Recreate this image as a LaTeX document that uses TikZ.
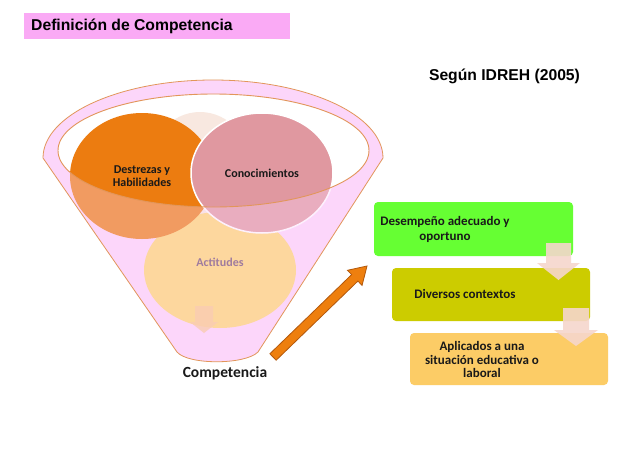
\documentclass[tikz,border=0pt]{standalone}
\usepackage{fontspec}
\setmainfont{Carlito}
\newfontfamily\arialf{Liberation Sans}
\usetikzlibrary{shapes.geometric,calc}
\definecolor{titlepink}{RGB}{250,170,245}
\definecolor{funpink}{RGB}{252,214,250}
\definecolor{funline}{RGB}{226,150,90}
\definecolor{cdes}{RGB}{236,124,16}
\definecolor{ccon}{RGB}{224,152,160}
\definecolor{cact}{RGB}{254,216,110}
\definecolor{cpale}{RGB}{248,232,224}
\definecolor{bgreen}{RGB}{102,255,51}
\definecolor{bolive}{RGB}{204,204,0}
\definecolor{bgold}{RGB}{252,204,102}
\definecolor{darrow}{RGB}{246,214,204}
\definecolor{oarrow}{RGB}{238,127,14}
\definecolor{oarrowline}{RGB}{178,88,12}
\definecolor{acttext}{RGB}{110,75,110}
\definecolor{txt}{RGB}{25,25,25}
\tikzset{
  circ/.style={ellipse, inner sep=0pt, align=center, font=\bfseries\fontsize{12}{13.5}\selectfont, text=txt},
  boxnode/.style={rectangle, rounded corners=4pt, inner sep=0pt},
  boxtext/.style={align=center, font=\bfseries\fontsize{13}{15}\selectfont, text=txt},
  downarrow/.style={fill=darrow, opacity=0.9},
  headfont/.style={font=\arialf\bfseries\fontsize{15.7}{18}\selectfont},
}
\def\funnelpath{(43,158) arc[start angle=180, end angle=360, x radius=170, y radius=78] -- (258,352) .. controls (245,365) and (188,365) .. (177,352) -- cycle}
\def\innerell{(213.5,150.5) ellipse[x radius=155.5, y radius=56.5]}
\begin{document}
\begin{tikzpicture}[x=1pt,y=-1pt]
\useasboundingbox (0,0) rectangle (630,469);
\fill[white] (0,0) rectangle (630,469);
% title
\node[fill=titlepink, minimum width=266pt, minimum height=26pt, inner sep=0pt, anchor=north west] (titlebox) at (24,13) {};
\node[anchor=west, headfont, inner sep=0pt] (title) at (31,26) {Definición de Competencia};
\node[headfont] (segun) at (504.5,76) {Según IDREH (2005)};
% funnel background
\fill[funpink, even odd rule] \funnelpath \innerell;
% circles
\node[ellipse, fill=cpale, minimum width=104pt, minimum height=116pt, inner sep=0pt] (pale) at (200,170) {};
\node[circ, fill=cact, minimum width=152pt, minimum height=116pt] (act) at (220,270) {};
\node[circ, fill=cdes, minimum width=144pt, minimum height=126pt] (des) at (142,176) {Destrezas y\\Habilidades};
\node[circ, fill=ccon, draw=white, line width=1.5pt, minimum width=142pt, minimum height=120pt] (con) at (262,173) {Conocimientos};
\node[font=\bfseries\fontsize{12}{13}\selectfont, text=acttext] (acttxt) at (220,262) {Actitudes};
% small arrow inside funnel
\fill[fill={rgb,255:red,248;green,200;blue,140}, opacity=0.8] (195,306) -- (213,306) -- (213,322) -- (218,322) -- (204,333) -- (190,322) -- (195,322) -- cycle;
% translucent overlay
\fill[funpink, opacity=0.35, even odd rule] \funnelpath \innerell;
% outlines
\draw[funline, line width=0.8pt] \funnelpath;
\draw[funline, line width=0.9pt] \innerell;
\node[font=\bfseries\fontsize{15.5}{17}\selectfont, text=txt] (comp) at (225,373) {Competencia};
% orange arrow
\coordinate (oa) at (273,357);
\coordinate (ob) at (367,266);
\coordinate (oh) at ($(ob)!17pt!(oa)$);
\filldraw[fill=oarrow, draw=oarrowline, line width=0.8pt, line join=miter]
  ($(oa)!4.5pt!90:(ob)$) -- ($(oh)!4.5pt!90:(ob)$) -- ($(oh)!10.5pt!90:(ob)$) -- (ob)
  -- ($(oh)!10.5pt!-90:(ob)$) -- ($(oh)!4.5pt!-90:(ob)$) -- ($(oa)!4.5pt!-90:(ob)$) -- cycle;
% boxes
\node[boxnode, fill=bgreen, minimum width=199pt, minimum height=54pt] (b1) at (473.5,229) {};
\node[boxnode, fill=bolive, minimum width=198pt, minimum height=53pt] (b2) at (491,294.5) {};
\node[boxnode, fill=bgold, minimum width=198pt, minimum height=52pt] (b3) at (509,359) {};
\node[boxtext] (t1) at (445,229.5) {Desempeño adecuado y\\oportuno};
\node[boxtext] (t2) at (465,294) {Diversos contextos};
\node[boxtext, font=\bfseries\fontsize{13}{13.5}\selectfont] (t3) at (482,359.5) {Aplicados a una\\situación educativa o\\laboral};
% down arrows
\fill[downarrow] (546,243) -- (571,243) -- (571,263) -- (580,263) -- (558.5,280) -- (537,263) -- (546,263) -- cycle;
\fill[downarrow] (563,308) -- (589,308) -- (589,330) -- (598,330) -- (576,346) -- (554,330) -- (563,330) -- cycle;
\end{tikzpicture}
\end{document}
